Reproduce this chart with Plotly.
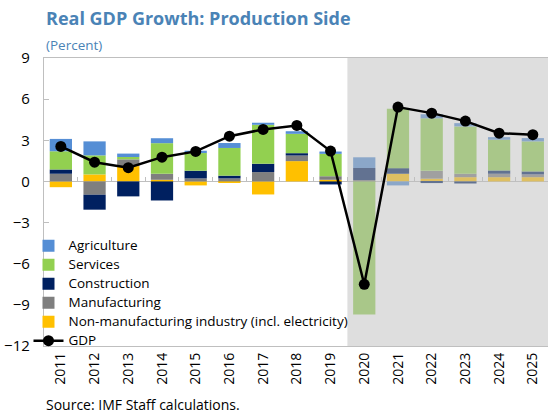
import plotly.graph_objects as go

years = list(range(2011, 2026))
year_labels = [str(y) for y in years]

agriculture = [0.90, 1.02, 0.25, 0.36, 0.17, 0.36, 0.15, 0.19, 0.17, 0.78, -0.29, 0.30, 0.24, 0.19, 0.24]
services = [1.33, 1.39, 0.17, 2.23, 1.29, 2.02, 2.84, 1.41, 1.63, -9.70, 4.33, 3.83, 3.45, 2.24, 2.19]
construction = [0.31, -1.09, -1.09, -1.39, 0.56, 0.20, 0.61, 0.17, -0.22, 0.88, 0.41, -0.12, -0.15, 0.24, 0.22]
manufacturing = [0.56, -0.97, 0.49, 0.44, 0.22, 0.22, 0.68, 0.41, 0.26, 0.10, 0.00, 0.57, 0.25, 0.25, 0.20]
non_manufacturing = [-0.42, 0.51, 1.12, 0.12, -0.29, -0.05, -0.95, 1.48, 0.12, 0.00, 0.56, 0.20, 0.31, 0.31, 0.31]
gdp = [2.55, 1.40, 1.00, 1.77, 2.19, 3.30, 3.79, 4.08, 2.21, -7.50, 5.42, 4.98, 4.40, 3.52, 3.41]

projection_start = 2020
FONT = "Open Sans"

def fade(hex_color, a=0.514, c=190.6):
    h = hex_color.lstrip("#")
    rgb = [int(h[i:i + 2], 16) for i in (0, 2, 4)]
    out = [round(a * c + (1 - a) * v) for v in rgb]
    return "rgb({},{},{})".format(*out)

def colors_for(base):
    return [base if y < projection_start else fade(base) for y in years]

def lg(name):
    return '<span style="font-size:13.5px">' + name + '</span>'

series = [
    ("Non-manufacturing industry (incl. electricity)", non_manufacturing, "#FFC000", 5),
    ("Manufacturing", manufacturing, "#7F7F7F", 4),
    ("Construction", construction, "#002060", 3),
    ("Services", services, "#92D050", 2),
    ("Agriculture", agriculture, "#558ED5", 1),
]

fig = go.Figure()
for name, vals, col, rank in series:
    fig.add_trace(go.Bar(
        x=years, y=vals, name=lg(name), legendrank=rank,
        marker=dict(color=colors_for(col), line=dict(width=0)),
    ))

fig.add_trace(go.Scatter(
    x=years, y=gdp, name=lg("GDP"), legendrank=6, mode="lines+markers",
    line=dict(color="black", width=2.5),
    marker=dict(color="black", size=11),
))

# helper trace to show the category-boundary ticks on the zero line
fig.add_trace(go.Scatter(x=[years[0]], y=[None], xaxis="x2", showlegend=False,
                         hoverinfo="skip", mode="markers"))

fig.add_shape(type="rect", xref="x", yref="y", x0=projection_start - 0.5, x1=2026,
              y0=-12, y1=9, fillcolor="#DEDEDE", line=dict(width=0), layer="below")

xr = [2010.5, 2025.45]
fig.update_layout(
    width=548, height=415,
    margin=dict(l=44, r=0, t=58, b=69, autoexpand=False),
    paper_bgcolor="white", plot_bgcolor="white",
    barmode="relative", bargap=0.34,
    font=dict(family=FONT, size=14, color="black"),
    showlegend=True,
    legend=dict(xref="container", yref="container", x=0.052, y=0.443,
                xanchor="left", yanchor="top", bgcolor="rgba(255,255,255,0)",
                font=dict(size=11.2, color="black"), tracegroupgap=0,
                itemwidth=30),
    xaxis=dict(range=xr, tickmode="array", tickvals=years, ticktext=year_labels,
               tickangle=-90, showgrid=False, zeroline=False, ticks="",
               showline=True, mirror=True, linecolor="#BFBFBF", linewidth=1.3,
               tickfont=dict(size=14)),
    xaxis2=dict(range=xr, overlaying="x", anchor="free", position=12 / 21,
                tickmode="array", tickvals=[y + 0.5 for y in years[:-1]],
                ticks="inside", ticklen=4, tickcolor="#BFBFBF", tickwidth=1,
                showticklabels=False, showline=False, showgrid=False, zeroline=False),
    yaxis=dict(range=[-12, 9], tickmode="array", tickvals=[-12, -9, -6, -3, 0, 3, 6, 9],
               showgrid=False, zeroline=True, zerolinecolor="#BFBFBF", zerolinewidth=1.3,
               showline=True, linecolor="#BFBFBF", linewidth=1.3,
               ticks="inside", ticklen=5, tickcolor="#BFBFBF",
               tickfont=dict(size=15), ticklabelstandoff=10),
    annotations=[
        dict(text="<b>Real GDP Growth: Production Side</b>", xref="paper", yref="paper",
             x=0, y=1.139, xanchor="left", yanchor="middle", showarrow=False, xshift=0,
             font=dict(size=18, color="#4A83B6", family=FONT)),
        dict(text="(Percent)", xref="paper", yref="paper", x=0, y=1.045,
             xanchor="left", yanchor="middle", showarrow=False,
             font=dict(size=13.5, color="#4A83B6", family=FONT)),
        dict(text="Source: IMF Staff calculations.", xref="paper", yref="paper",
             x=0, y=-0.204, xanchor="left", yanchor="middle", showarrow=False,
             font=dict(size=14, color="black", family=FONT)),
    ],
)

fig.write_html("out.html", config={"displayModeBar": False},
               post_script="document.body.style.margin='0';")
